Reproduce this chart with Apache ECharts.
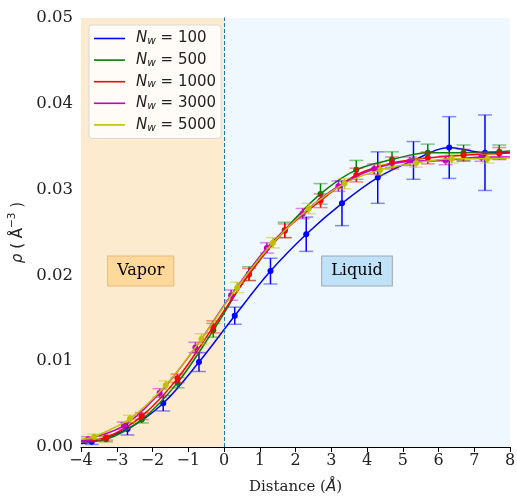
<!DOCTYPE html>
<html><head><meta charset="utf-8">
<script src="https://cdn.jsdelivr.net/npm/echarts@6/dist/echarts.min.js"></script>
<style>html,body{margin:0;padding:0;background:#fff}#c{width:517px;height:497px}</style>
</head><body><div id="c"></div>
<script>
// ---- data ----
const nwLabels = ['100', '500', '1000', '3000', '5000'];
const colors = ['#0000ff', '#008000', '#ff0000', '#bf00bf', '#bfbf00'];
const xTicks = [-4, -3, -2, -1, 0, 1, 2, 3, 4, 5, 6, 7, 8];

const x100 = [-3.7, -2.7, -1.7, -0.7, 0.3, 1.3, 2.3, 3.3, 4.3, 5.3, 6.3, 7.3];
const y100 = [0.0006, 0.0021, 0.0051, 0.0099, 0.0153, 0.0205, 0.0248, 0.0284, 0.0314, 0.0334, 0.0349, 0.0343];
const e100 = [0.0003, 0.0007, 0.0009, 0.0011, 0.0010, 0.0015, 0.0020, 0.0026, 0.0030, 0.0022, 0.0036, 0.0044];

const x500 = [-3.3, -2.3, -1.3, -0.3, 0.7, 1.7, 2.7, 3.7, 4.7, 5.7, 6.7, 7.7];
const y500 = [0.0009, 0.0032, 0.0075, 0.0136, 0.0202, 0.0253, 0.0295, 0.0323, 0.0335, 0.0343, 0.0343, 0.0344];
const e500 = [0.0003, 0.0004, 0.0006, 0.0008, 0.0008, 0.0009, 0.0012, 0.0011, 0.0009, 0.0010, 0.0009, 0.0008];

const x1000 = [-3.3, -2.3, -1.3, -0.3, 0.7, 1.7, 2.7, 3.7, 4.7, 5.7, 6.7, 7.7];
const y1000 = [0.0011, 0.0036, 0.0080, 0.0140, 0.0201, 0.0252, 0.0287, 0.0317, 0.0331, 0.0337, 0.0340, 0.0342];
const e1000 = [0.0003, 0.0004, 0.0005, 0.0007, 0.0007, 0.0008, 0.0008, 0.0008, 0.0007, 0.0007, 0.0007, 0.0007];

const x3000 = [-3.8, -2.8, -1.8, -0.8, 0.2, 1.2, 2.2, 3.2, 4.2, 5.2, 6.2, 7.2];
const y3000 = [0.0009, 0.0025, 0.0063, 0.0116, 0.0177, 0.0232, 0.0272, 0.0304, 0.0324, 0.0333, 0.0334, 0.0338];
const e3000 = [0.0003, 0.0004, 0.0005, 0.0006, 0.0006, 0.0006, 0.0006, 0.0006, 0.0006, 0.0005, 0.0005, 0.0005];

const x5000 = [-3.63, -2.63, -1.63, -0.63, 0.37, 1.37, 2.37, 3.37, 4.37, 5.37, 6.37, 7.37];
const y5000 = [0.0012, 0.0033, 0.0072, 0.0126, 0.0186, 0.0238, 0.0278, 0.0307, 0.0323, 0.0331, 0.0336, 0.0336];
const e5000 = [0.0003, 0.0004, 0.0005, 0.0006, 0.0006, 0.0006, 0.0006, 0.0006, 0.0006, 0.0005, 0.0005, 0.0005];

// curve values at the plot edges x=-4 and x=8
const curveStart = [0.0004, 0.0006, 0.0007, 0.0007, 0.0009];
const curveEnd = [0.0343, 0.0345, 0.0343, 0.0338, 0.0337];

const regionLabels = [{text: 'Vapor', x: -2.33, y: 0.0205}, {text: 'Liquid', x: 3.72, y: 0.0205}];

// ---- build ----
const groups = [
  [x100, y100, e100], [x500, y500, e500], [x1000, y1000, e1000], [x3000, y3000, e3000], [x5000, y5000, e5000]
];
const names = nwLabels.map(n => 'N' + n);
const series = [];

series.push({
  type: 'line', data: [], z: 0, silent: true,
  markArea: {
    silent: true,
    data: [
      [{xAxis: -4, itemStyle: {color: '#FDEBD0'}}, {xAxis: 0}],
      [{xAxis: 0, itemStyle: {color: '#F0F8FF'}}, {xAxis: 8}]
    ]
  },
  markLine: {
    silent: true, symbol: 'none', label: {show: false},
    lineStyle: {color: '#1f77b4', type: [4, 2], width: 1},
    data: [{xAxis: 0}]
  },
  markPoint: {
    silent: true, symbol: 'circle', symbolSize: 0,
    data: regionLabels.map((r, i) => ({
      coord: [r.x, r.y],
      label: {
        show: true, formatter: r.text, position: 'inside',
        fontFamily: 'DejaVu Serif', fontSize: 16, color: '#000',
        backgroundColor: i === 0 ? '#FFD89B' : '#BFE2F9',
        borderColor: i === 0 ? '#E3BC82' : '#9AA8B3', borderWidth: 1,
        padding: [7, 9, 6, 9]
      }
    }))
  }
});

groups.forEach((g, i) => {
  const [xs, ys, es] = g;
  const curve = [[-4, curveStart[i]]].concat(xs.map((x, k) => [x, ys[k]])).concat([[8, curveEnd[i]]]);
  series.push({
    name: names[i], type: 'line', data: curve, smooth: 0.35, showSymbol: false, symbol: 'none',
    lineStyle: {color: colors[i], width: 1.5}, itemStyle: {color: colors[i]}, z: 2 + i * 3, silent: true
  });
  series.push({
    type: 'custom', z: 3 + i * 3, silent: true,
    data: xs.map((x, k) => [x, ys[k], es[k]]),
    encode: {x: 0, y: 1},
    renderItem: function (params, api) {
      const x = api.value(0), y = api.value(1), e = api.value(2);
      const top = api.coord([x, y + e]);
      const bot = api.coord([x, y - e]);
      const hw = 7;
      return {
        type: 'group',
        children: [
          {type: 'line', shape: {x1: top[0], y1: top[1], x2: bot[0], y2: bot[1]}, style: {stroke: colors[i], lineWidth: 1.5}},
          {type: 'line', shape: {x1: top[0] - hw, y1: top[1], x2: top[0] + hw, y2: top[1]}, style: {stroke: colors[i], lineWidth: 1.5, opacity: 0.45}},
          {type: 'line', shape: {x1: bot[0] - hw, y1: bot[1], x2: bot[0] + hw, y2: bot[1]}, style: {stroke: colors[i], lineWidth: 1.5, opacity: 0.45}}
        ]
      };
    }
  });
  series.push({
    type: 'scatter', data: xs.map((x, k) => [x, ys[k]]), symbolSize: 6,
    itemStyle: {color: colors[i], opacity: 1}, z: 4 + i * 3, silent: true
  });
});

const minusFmt = v => String(v).replace('-', '\u2212');

const option = {
  animation: false,
  backgroundColor: '#fff',
  grid: {left: 81, right: 7, top: 18, bottom: 50, containLabel: false, outerBoundsMode: 'none'},
  legend: {
    orient: 'vertical', left: 89, top: 25,
    data: names.map((n, i) => ({name: n, icon: 'rect', itemStyle: {color: colors[i]}})),
    itemWidth: 31, itemHeight: 1.6, itemGap: 4.6,
    padding: [5, 5, 5, 5],
    backgroundColor: 'rgba(255,255,255,0.82)', borderColor: '#d8d8d8', borderWidth: 1, borderRadius: 3,
    selectedMode: false,
    formatter: function (name) {
      const idx = names.indexOf(name);
      return '{i|N}{s|w}{t| = ' + nwLabels[idx] + '}';
    },
    textStyle: {
      padding: [0, 0, 0, 6],
      rich: {
        i: {fontFamily: 'DejaVu Sans', fontStyle: 'italic', fontSize: 15, color: '#222', lineHeight: 17, verticalAlign: 'middle'},
        s: {fontFamily: 'DejaVu Sans', fontStyle: 'italic', fontSize: 10.5, color: '#222', lineHeight: 17, verticalAlign: 'bottom', padding: [6, 0, 0, 0]},
        t: {fontFamily: 'DejaVu Sans', fontSize: 15, color: '#222', lineHeight: 17, verticalAlign: 'middle'}
      }
    }
  },
  xAxis: {
    type: 'value', min: -4, max: 8, interval: 1,
    name: '{n|Distance (}{i|Å}{n|)}', nameLocation: 'middle', nameGap: 33,
    nameTextStyle: {
      rich: {
        n: {fontFamily: 'DejaVu Serif', fontSize: 15, color: '#222'},
        i: {fontFamily: 'DejaVu Sans', fontStyle: 'italic', fontSize: 15, color: '#222'}
      }
    },
    axisLine: {show: true, onZero: false, lineStyle: {color: '#000', width: 1.2}},
    axisTick: {show: true, inside: false, length: 5, lineStyle: {color: '#000', width: 1}},
    axisLabel: {
      fontFamily: 'DejaVu Serif', fontSize: 16, color: '#222', margin: 6,
      formatter: v => xTicks.indexOf(v) >= 0 ? minusFmt(v) : ''
    },
    splitLine: {show: false}
  },
  yAxis: {
    type: 'value', min: 0, max: 0.05, interval: 0.01,
    name: '{i|ρ}{n| ( }{n|Å}{sup|−3}{n| )}', nameLocation: 'middle', nameGap: 49, nameRotate: 90,
    nameTextStyle: {
      rich: {
        i: {fontFamily: 'DejaVu Sans', fontStyle: 'italic', fontSize: 15, color: '#222', verticalAlign: 'bottom'},
        n: {fontFamily: 'DejaVu Sans', fontSize: 15, color: '#222', verticalAlign: 'bottom'},
        sup: {fontFamily: 'DejaVu Sans', fontSize: 10.5, color: '#222', verticalAlign: 'top', padding: [0, 0, 8, 0]}
      }
    },
    axisLine: {show: true, lineStyle: {color: '#000', width: 1.2}},
    axisTick: {show: true, inside: false, length: 5, lineStyle: {color: '#000', width: 1}},
    axisLabel: {fontFamily: 'DejaVu Serif', fontSize: 16.5, color: '#222', margin: 8, formatter: v => v.toFixed(2)},
    splitLine: {show: false}
  },
  series: series
};

const chart = echarts.init(document.getElementById('c'), null, {renderer: 'canvas'});
chart.setOption(option);
</script>
</body></html>
